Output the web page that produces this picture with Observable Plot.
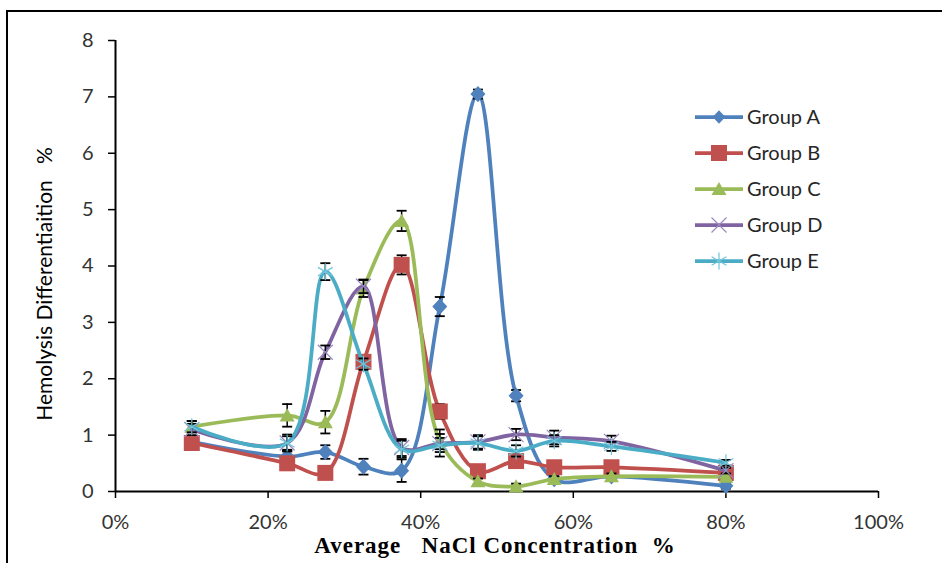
<!DOCTYPE html>
<html><head><meta charset="utf-8">
<script src="https://cdn.jsdelivr.net/npm/d3@7"></script>
<script src="https://cdn.jsdelivr.net/npm/@observablehq/plot@0.6"></script>
<style>
body{margin:0;background:#fff;overflow:hidden;}
#wrap{position:relative;width:942px;height:563px;overflow:hidden;background:#fff;}
#border{position:absolute;left:6px;top:10px;width:1000px;height:700px;border:2px solid #000;box-sizing:border-box;pointer-events:none;}
</style></head><body>
<div id="wrap"><div id="border"></div></div>
<script>
// ---- data ----
const concentrations = [10, 22.5, 27.5, 32.5, 37.5, 42.5, 47.5, 52.5, 57.5, 65, 80];
const groups = ["Group A", "Group B", "Group C", "Group D", "Group E"];
const groupA = [0.88, 0.62, 0.70, 0.44, 0.37, 3.28, 7.05, 1.70, 0.22, 0.27, 0.10];
const groupB = [0.86, 0.50, 0.33, 2.30, 4.02, 1.42, 0.36, 0.54, 0.43, 0.43, 0.33];
const groupC = [1.15, 1.35, 1.23, 3.60, 4.80, 0.90, 0.18, 0.09, 0.22, 0.27, 0.26];
const groupD = [1.10, 0.86, 2.47, 3.64, 0.78, 0.85, 0.88, 1.01, 0.96, 0.89, 0.37];
const groupE = [1.15, 0.86, 3.90, 2.26, 0.75, 0.82, 0.86, 0.72, 0.90, 0.80, 0.51];
const errA = [0.10, 0.10, 0.12, 0.14, 0.20, 0.17, 0.08, 0.10, 0.05, 0.05, 0.05];
const errB = [0.08, 0.08, 0.05, 0.12, 0.17, 0.13, 0.05, 0.05, 0.05, 0.05, 0.05];
const errC = [0.10, 0.20, 0.20, 0.15, 0.18, 0.20, 0.05, 0.05, 0.05, 0.05, 0.05];
const errD = [0.10, 0.15, 0.12, 0.12, 0.15, 0.10, 0.12, 0.10, 0.12, 0.10, 0.05];
const errE = [0.10, 0.12, 0.15, 0.10, 0.15, 0.20, 0.12, 0.10, 0.10, 0.08, 0.05];
const xTicks = [0, 20, 40, 60, 80, 100];
const yTicks = [0, 1, 2, 3, 4, 5, 6, 7, 8];
const xLabel = "Average\u00a0\u00a0\u00a0NaCl Concentration\u00a0\u00a0%";
const yLabel = "Hemolysis Differentiaition\u00a0\u00a0\u00a0%";

// ---- styles ----
const colors = ["#4F81BD", "#C0504D", "#9BBB59", "#8064A2", "#4BACC6"];
const values = [groupA, groupB, groupC, groupD, groupE];
const errors = [errA, errB, errC, errD, errE];

const R = s => Math.sqrt(s / Math.PI);
const symDiamond = {draw(c, s) { const r = R(s); c.moveTo(0, -r * 1.08); c.lineTo(r, 0); c.lineTo(0, r * 1.08); c.lineTo(-r, 0); c.closePath(); }};
const symSquare = {draw(c, s) { const r = R(s); c.rect(-r, -r, 2 * r, 2 * r); }};
const symTriangle = {draw(c, s) { const r = R(s); c.moveTo(0, -r * 0.95); c.lineTo(r, r * 0.8); c.lineTo(-r, r * 0.8); c.closePath(); }};
const symTimes = {draw(c, s) { const r = R(s); c.moveTo(-r, -r); c.lineTo(r, r); c.moveTo(r, -r); c.lineTo(-r, r); }};
const symAsterisk = {draw(c, s) { const r = R(s); const a = r * 0.87, b = r * 0.5; c.moveTo(0, -r); c.lineTo(0, r); c.moveTo(-a, -b); c.lineTo(a, b); c.moveTo(-a, b); c.lineTo(a, -b); }};
const symCap = {draw(c, s) { const r = R(s); c.moveTo(-r, 0); c.lineTo(r, 0); }};

const markerStyle = [
  {symbol: symDiamond, r: 7.5, fill: colors[0]},
  {symbol: symSquare, r: 8, fill: colors[1]},
  {symbol: symTriangle, r: 7.5, fill: colors[2]},
  {symbol: symTimes, r: 7.5, fill: "none", stroke: "#9a88c0", strokeWidth: 1.2},
  {symbol: symAsterisk, r: 8.5, fill: "none", stroke: "#6fc6dc", strokeWidth: 1.2}
];

const data = groups.flatMap((g, i) => concentrations.map((c, j) => ({group: g, x: c, y: values[i][j], err: errors[i][j]})));

const seriesMarks = groups.flatMap((g, i) => {
  const sub = data.filter(d => d.group === g);
  return [
    Plot.line(sub, {x: "x", y: "y", stroke: colors[i], strokeWidth: 3.75, curve: "catmull-rom"}),
    Plot.ruleX(sub, {x: "x", y1: d => d.y - d.err, y2: d => d.y + d.err, stroke: "black", strokeWidth: 1.5}),
    Plot.dot(sub, {x: "x", y: d => d.y + d.err, symbol: symCap, r: 5, stroke: "black", strokeWidth: 1.8}),
    Plot.dot(sub, {x: "x", y: d => d.y - d.err, symbol: symCap, r: 5, stroke: "black", strokeWidth: 1.8}),
    Plot.dot(sub, {x: "x", y: "y", ...markerStyle[i]})
  ];
});

const chart = Plot.plot({
  width: 942,
  height: 563,
  marginLeft: 115,
  marginRight: 64,
  marginTop: 40,
  marginBottom: 72,
  style: {fontFamily: "Lato", background: "transparent", overflow: "visible"},
  x: {domain: [0, 100]},
  y: {domain: [0, 8]},
  marks: [
    Plot.axisX({ticks: xTicks, tickFormat: d => `${d}%`, tickSize: 7, tickPadding: 16, fontSize: 20, fill: "#333", stroke: "black", strokeWidth: 1.5, label: null}),
    Plot.axisY({ticks: yTicks, tickFormat: d => `${d}`, tickSize: 7, tickPadding: 15, fontSize: 20, fill: "#333", stroke: "black", strokeWidth: 1.5, label: null}),
    Plot.ruleX([0], {stroke: "black", strokeWidth: 2}),
    Plot.ruleY([0], {stroke: "black", strokeWidth: 2}),
    ...seriesMarks,
    Plot.text([yLabel], {text: d => d, frameAnchor: "left", textAnchor: "middle", rotate: -90, dx: -70, dy: 18, fontSize: 21, fill: "black", lineAnchor: "middle"}),
    Plot.text([xLabel], {text: d => d, frameAnchor: "bottom", textAnchor: "middle", dy: 54, dx: -2, fontSize: 23, fontWeight: "bold", fontFamily: "Liberation Serif", fill: "black", lineAnchor: "middle"})
  ]
});

const svg = d3.select(chart);
svg.selectAll("text").filter(function() { return this.textContent === xLabel; })
  .style("letter-spacing", "1px");

// legend inside the plot area
const lg = svg.append("g").attr("class", "legend").attr("text-anchor", "start");
groups.forEach((g, i) => {
  const y = 117 + 36 * i;
  const row = lg.append("g").attr("transform", `translate(695,${y})`);
  row.append("line").attr("x1", 0).attr("x2", 48).attr("y1", 0).attr("y2", 0)
    .attr("stroke", colors[i]).attr("stroke-width", 3.75);
  const ms = markerStyle[i];
  const size = Math.PI * ms.r * ms.r * (i === 0 ? 0.7 : 1);
  row.append("path").attr("transform", "translate(24,0)")
    .attr("d", d3.symbol(ms.symbol, size)())
    .attr("fill", ms.fill).attr("stroke", ms.stroke || "none").attr("stroke-width", ms.strokeWidth || 0);
  row.append("text").attr("x", 52).attr("y", 0).attr("dy", "0.35em").attr("text-anchor", "start")
    .attr("font-family", "Lato").attr("font-size", 20).attr("fill", "#262626").text(g);
});

document.getElementById("wrap").appendChild(chart);
</script>
</body></html>
